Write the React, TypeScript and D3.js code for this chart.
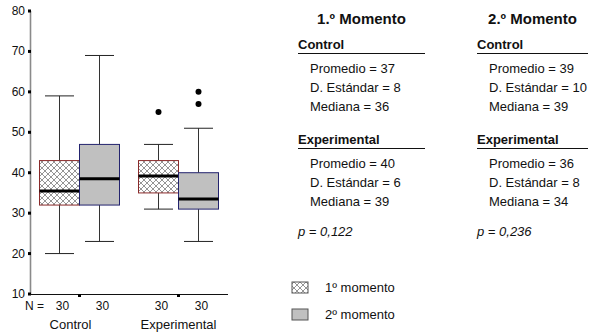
import React from "react";
import * as d3 from "d3";

// Groups and measurement moments
const groups = ["Control", "Experimental"];
const moments = ["1", "2"];

// Box-plot summaries per group, for each moment (min, Q1, median, Q3, max)
const mins1 = [20, 31];
const q1s1 = [32, 35];
const medians1 = [35.5, 39.2];
const q3s1 = [43, 43];
const maxs1 = [59, 47];
const outliers1 = [[], [55]];

const mins2 = [23, 23];
const q1s2 = [32, 31];
const medians2 = [38.5, 33.5];
const q3s2 = [47, 40];
const maxs2 = [69, 51];
const outliers2 = [[], [57, 60]];

const counts = [30, 30];

// Descriptive statistics shown next to the plot
const means1 = [37, 40];
const sds1 = [8, 6];
const means2 = [39, 36];
const sds2 = [10, 8];
const pValues = ["0,122", "0,236"];

const yTicks = [10, 20, 30, 40, 50, 60, 70, 80];

const FONT = "'Liberation Sans', Arial, Helvetica, sans-serif";

type Box = {
  group: string;
  moment: string;
  min: number;
  q1: number;
  median: number;
  q3: number;
  max: number;
  outliers: number[];
};

const boxes: Box[] = [];
groups.forEach((g, i) => {
  boxes.push({ group: g, moment: "1", min: mins1[i], q1: q1s1[i], median: medians1[i], q3: q3s1[i], max: maxs1[i], outliers: outliers1[i] });
  boxes.push({ group: g, moment: "2", min: mins2[i], q1: q1s2[i], median: medians2[i], q3: q3s2[i], max: maxs2[i], outliers: outliers2[i] });
});

export default function App() {
  const width = 589;
  const height = 333;

  const x0 = d3.scalePoint<string>().domain(groups).range([30, 228]).padding(0.5);
  const x1 = d3.scaleBand<string>().domain(moments).range([-40, 40]);
  const y = d3.scaleLinear().domain([10, 80]).range([294, 11]);

  const bw = x1.bandwidth();
  const capW = 29;

  const strokeFor = (m: string) => (m === "1" ? "#8a2a2a" : "#23236e");
  const fillFor = (m: string) => (m === "1" ? "url(#hatch)" : "#c0c0c0");

  const stats = [
    { title: "1.º Momento", x: 298, means: means1, sds: sds1, medians: medians1, p: pValues[0], lineEnd: 425 },
    { title: "2.º Momento", x: 477, means: means2, sds: sds2, medians: medians2, p: pValues[1], lineEnd: 588 },
  ];

  return (
    <svg
      width={width}
      height={height}
      style={{ position: "absolute", left: 0, top: 0, background: "#fff" }}
      fontFamily={FONT}
    >
      <defs>
        <pattern id="hatch" patternUnits="userSpaceOnUse" width={6} height={6}>
          <rect width={6} height={6} fill="#fff" />
          <path d="M0,0 L6,6 M6,0 L0,6" stroke="#7a7a7a" strokeWidth={0.8} />
        </pattern>
      </defs>

      {/* Y axis */}
      <line x1={30.5} x2={30.5} y1={y(80)} y2={y(10)} stroke="#8a8a8a" strokeWidth={1.6} />
      {yTicks.map((t) => (
        <g key={t}>
          <rect x={28} y={y(t) - 1.5} width={3} height={3} fill="#000" />
          <text x={25} y={y(t) + 4} textAnchor="end" fontSize={12} fill="#111">
            {t}
          </text>
        </g>
      ))}

      {/* X axis */}
      <line x1={30} x2={228} y1={294.5} y2={294.5} stroke="#111" strokeWidth={1} />
      {groups.map((g) => (
        <rect key={g} x={(x0(g) as number) - 1.5} y={294} width={3} height={3} fill="#000" />
      ))}

      {/* Boxes */}
      {boxes.map((b, i) => {
        const cx = (x0(b.group) as number) + (x1(b.moment) as number) + bw / 2;
        const left = cx - bw / 2;
        return (
          <g key={i}>
            <line x1={cx} x2={cx} y1={y(b.max)} y2={y(b.q3)} stroke="#333" strokeWidth={1} />
            <line x1={cx} x2={cx} y1={y(b.q1)} y2={y(b.min)} stroke="#333" strokeWidth={1} />
            <line x1={cx - capW / 2} x2={cx + capW / 2} y1={y(b.max)} y2={y(b.max)} stroke="#222" strokeWidth={1} />
            <line x1={cx - capW / 2} x2={cx + capW / 2} y1={y(b.min)} y2={y(b.min)} stroke="#222" strokeWidth={1} />
            <rect
              x={left}
              y={y(b.q3)}
              width={bw}
              height={y(b.q1) - y(b.q3)}
              fill={fillFor(b.moment)}
              stroke={strokeFor(b.moment)}
              strokeWidth={1}
            />
            <line x1={left} x2={left + bw} y1={y(b.median)} y2={y(b.median)} stroke="#000" strokeWidth={3} />
            {b.outliers.map((o, j) => (
              <circle key={j} cx={cx} cy={y(o)} r={3} fill="#000" />
            ))}
          </g>
        );
      })}

      {/* Sample sizes and group labels */}
      <text x={25} y={310} fontSize={12} fill="#111">
        N =
      </text>
      {boxes.map((b, i) => {
        const cx = (x0(b.group) as number) + (x1(b.moment) as number) + bw / 2;
        return (
          <text key={i} x={cx + 3} y={310} textAnchor="middle" fontSize={12} fill="#111">
            {counts[groups.indexOf(b.group)]}
          </text>
        );
      })}
      {groups.map((g) => (
        <text key={g} x={(x0(g) as number) - 9 + groups.indexOf(g) * 9} y={329} textAnchor="middle" fontSize={13} fill="#111">
          {g}
        </text>
      ))}

      {/* Statistics panels */}
      {stats.map((s, k) => (
        <g key={k}>
          <text x={(s.x + s.lineEnd) / 2} y={23.5} textAnchor="middle" fontSize={15} fontWeight="bold" fill="#111">
            {s.title}
          </text>
          {groups.map((g, gi) => {
            const top = gi === 0 ? 49 : 144;
            return (
              <g key={g}>
                <text x={s.x} y={top} fontSize={13} fontWeight="bold" fill="#111">
                  {g}
                </text>
                <line x1={s.x} x2={s.lineEnd} y1={top + 4.5} y2={top + 4.5} stroke="#111" strokeWidth={1} />
                <text x={s.x + 12} y={top + 24} fontSize={13} fill="#111">
                  {`Promedio = ${s.means[gi]}`}
                </text>
                <text x={s.x + 12} y={top + 43} fontSize={13} fill="#111">
                  {`D. Estándar = ${s.sds[gi]}`}
                </text>
                <text x={s.x + 12} y={top + 62} fontSize={13} fill="#111">
                  {`Mediana = ${Math.round(s.medians[gi])}`}
                </text>
              </g>
            );
          })}
          <text x={s.x} y={236} fontSize={13} fontStyle="italic" fill="#111">
            {`p = ${s.p}`}
          </text>
        </g>
      ))}

      {/* Legend */}
      <rect x={292} y={282} width={16} height={11} fill="url(#hatch)" stroke="#555" strokeWidth={1} />
      <text x={325} y={292} fontSize={13} fill="#111">
        1º momento
      </text>
      <rect x={292} y={309} width={16} height={11} fill="#c0c0c0" stroke="#555" strokeWidth={1} />
      <text x={325} y={319} fontSize={13} fill="#111">
        2º momento
      </text>
    </svg>
  );
}
